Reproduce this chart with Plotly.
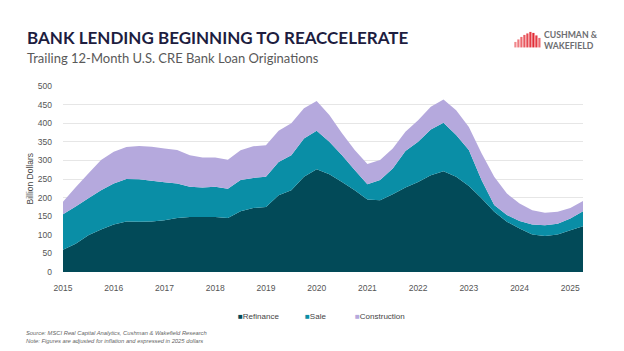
import plotly.graph_objects as go

# Quarterly data, 2015 Q1 .. 2025 Q2 (billion dollars)
quarters = [f"{y}Q{q}" for y in range(2015, 2026) for q in range(1, 5)][:42]
refinance_top = [60, 76, 99, 114, 128, 136, 135, 136, 139, 145, 148, 148, 148, 145, 163, 172,
                 175, 206, 220, 256, 276, 263, 242, 220, 195, 193, 209, 227, 242, 260, 271, 256,
                 231, 198, 162, 135, 117, 101, 97, 101, 112, 123]
sale_top = [155, 176, 198, 220, 238, 250, 249, 245, 241, 238, 229, 227, 229, 224, 247, 253,
            256, 296, 314, 359, 380, 350, 314, 274, 236, 247, 278, 325, 350, 383, 401, 368,
            328, 247, 180, 153, 137, 128, 126, 130, 144, 163]
total_top = [189, 228, 265, 301, 323, 336, 339, 337, 332, 328, 314, 308, 308, 302, 327, 338,
             341, 380, 400, 440, 460, 422, 373, 328, 290, 301, 332, 377, 408, 444, 464, 435,
             390, 319, 256, 211, 184, 166, 159, 162, 172, 191]

refinance = refinance_top
sale = [s - r for s, r in zip(sale_top, refinance_top)]
construction = [t - s for t, s in zip(total_top, sale_top)]

x_years = [int(q[:4]) + (int(q[-1]) - 1) / 4 for q in quarters]
year_ticks = list(range(2015, 2026))
y_ticks = list(range(0, 501, 50))

series = [("Refinance", refinance, "#024a58"),
          ("Sale", sale, "#0a8ea6"),
          ("Construction", construction, "#b5a9dd")]

W, H = 624, 351
L, R, T, B = 62.7, 582.7, 86.0, 271.7

fig = go.Figure()
for name, vals, col in series:
    fig.add_trace(go.Scatter(x=x_years, y=vals, name=name, stackgroup="one",
                             mode="none", fillcolor=col, line=dict(width=0),
                             hoverinfo="x+y+name"))

def px(xp):
    return (xp - L) / (R - L)

def py(yp):
    return (B - yp) / (B - T)

def note(text, xp, yp, **kw):
    d = dict(text=text, x=px(xp), y=py(yp), xref="paper", yref="paper",
             showarrow=False, xanchor="left", yanchor="middle")
    d.update(kw)
    return d

ann = []
ann.append(note("<b>BANK LENDING BEGINNING TO REACCELERATE</b>", 25, 38,
                font=dict(family="Lato", size=17, color="#1d1d3f")))
ann.append(note("Trailing 12-Month U.S. CRE Bank Loan Originations", 25, 58.5,
                font=dict(family="Lato", size=13, color="#595959")))
ann.append(note("<b>CUSHMAN &amp;<br>WAKEFIELD</b>", 542, 40, align="left",
                font=dict(family="Lato", size=8.7, color="#6d6e71")))
ann.append(note("Billion Dollars", 30, 178, textangle=-90, xanchor="center",
                font=dict(family="Arial", size=8.5, color="#444444")))
legend_items = [("Refinance", "#024a58", 236), ("Sale", "#0a8ea6", 303), ("Construction", "#b5a9dd", 353)]
for name, col, xp in legend_items:
    ann.append(note(f"<span style='color:{col}'>■</span>{name}", xp, 316,
                    font=dict(family="Arial", size=8, color="#444444")))
ann.append(note("<i>Source: MSCI Real Capital Analytics, Cushman &amp; Wakefield Research<br>"
                "Note: Figures are adjusted for inflation and expressed in 2025 dollars</i>",
                24, 336.5, align="left", font=dict(family="Arial", size=5.8, color="#666666")))

shapes = []
bar_x = [514, 517, 520, 523, 526, 529, 532, 535, 538]
bar_top = [42, 39.5, 37, 35, 33.5, 32, 33, 35.5, 38]
bar_col = ["#f08a8e", "#ee7a7f", "#ec6a70", "#e95a61", "#e64a52", "#e53a43", "#e02a35", "#e53a43", "#ec6a70"]
for bx, bt, bc in zip(bar_x, bar_top, bar_col):
    shapes.append(dict(type="rect", xref="paper", yref="paper",
                       x0=px(bx), x1=px(bx + 2.2), y0=py(47.5), y1=py(bt),
                       fillcolor=bc, line=dict(width=0)))

fig.update_layout(
    width=W, height=H,
    margin=dict(l=L, r=W - R, t=T, b=H - B, autoexpand=False),
    paper_bgcolor="white", plot_bgcolor="white",
    showlegend=False,
    annotations=ann, shapes=shapes,
    xaxis=dict(range=[2015, 2025.25], tickvals=year_ticks, ticktext=[str(y) for y in year_ticks],
               showgrid=False, zeroline=False, showline=False, ticks="", ticklabelstandoff=9,
               tickfont=dict(family="Arial", size=8.5, color="#555555")),
    yaxis=dict(range=[0, 500], tickvals=y_ticks, showgrid=True, gridcolor="#e6e6e6",
               gridwidth=1, zeroline=False, showline=False, ticks="", ticklabelstandoff=10,
               tickfont=dict(family="Arial", size=8.5, color="#555555")),
)

fig.write_html("out.html")
